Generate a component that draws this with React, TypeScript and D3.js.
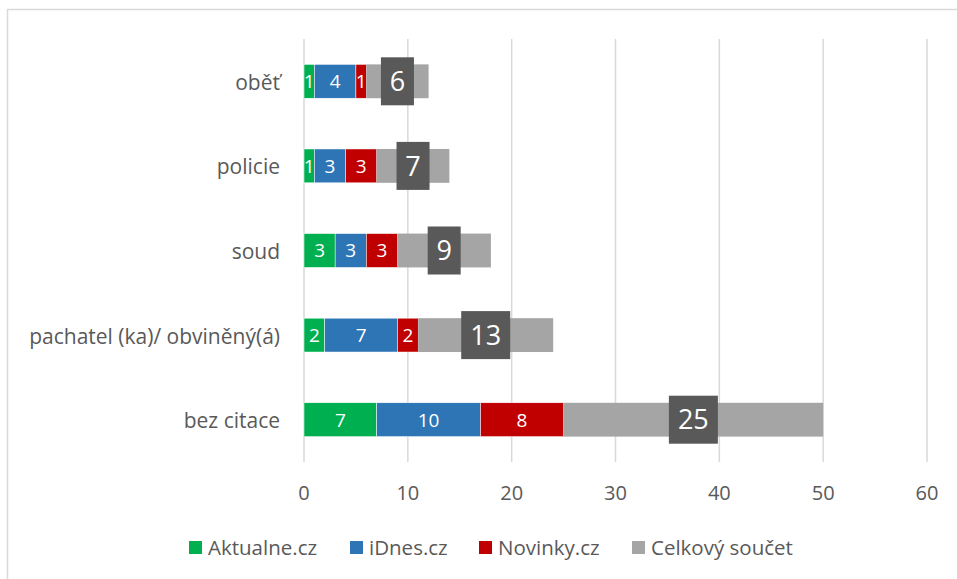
import React from "react";
import * as d3 from "d3";

const width = 957;
const height = 579;

const categories = ["oběť", "policie", "soud", "pachatel (ka)/ obviněný(á)", "bez citace"];
const aktualne = [1, 1, 3, 2, 7];
const idnes = [4, 3, 3, 7, 10];
const novinky = [1, 3, 3, 2, 8];
const celkem = [6, 7, 9, 13, 25];
const seriesNames = ["Aktualne.cz", "iDnes.cz", "Novinky.cz", "Celkový součet"];
const colors = ["#00B050", "#2E75B6", "#C00000", "#A5A5A5"];
const xTicks = [0, 10, 20, 30, 40, 50, 60];

const font = "'Open Sans', sans-serif";

export default function App() {
  const x = d3.scaleLinear().domain([0, 60]).range([304, 927]);
  const y = d3.scaleBand().domain(categories).range([39, 462]).paddingInner(0.6).paddingOuter(0.3);

  const table = categories.map((c, i) => ({ cat: c, a: aktualne[i], i: idnes[i], n: novinky[i], c: celkem[i] }));
  const stack = d3.stack<any>().keys(["a", "i", "n", "c"])(table);

  return (
    <svg width={width} height={height} style={{ position: "absolute", left: 0, top: 0 }} fontFamily={font}>
      <rect x={7.5} y={9.5} width={width + 10} height={height + 10} fill="white" stroke="#D9D9D9" strokeWidth={1.5} />
      {xTicks.map((t) => (
        <g key={t}>
          <line x1={x(t)} x2={x(t)} y1={39} y2={462} stroke="#D9D9D9" strokeWidth={1.5} />
          <text x={x(t)} y={493} dy="0.36em" textAnchor="middle" fontSize={20} fill="#595959">{t}</text>
        </g>
      ))}
      {categories.map((c) => (
        <text key={c} x={280} y={y(c)! + y.bandwidth() / 2 + 1} dy="0.36em" textAnchor="end" fontSize={21} fill="#595959">{c}</text>
      ))}
      {stack.map((s, si) => (
        <g key={si}>
          {s.map((d, di) => (
            <rect key={di} x={x(d[0])} y={y(categories[di])} width={x(d[1]) - x(d[0])} height={y.bandwidth()} fill={colors[si]} stroke="white" strokeWidth={si < 3 ? 0.5 : 0} />
          ))}
        </g>
      ))}
      {stack.slice(0, 3).map((s, si) => (
        <g key={"l" + si}>
          {s.map((d, di) => (
            <text key={di} x={(x(d[0]) + x(d[1])) / 2} y={y(categories[di])! + y.bandwidth() / 2} dy="0.36em" textAnchor="middle" fontSize={19} fill="white">{d[1] - d[0]}</text>
          ))}
        </g>
      ))}
      {stack[3].map((d, di) => {
        const cx = (x(d[0]) + x(d[1])) / 2;
        const cy = y(categories[di])! + y.bandwidth() / 2;
        const v = d[1] - d[0];
        const w = String(v).length > 1 ? 49 : 33;
        return (
          <g key={"t" + di}>
            <rect x={cx - w / 2} y={cy - 24} width={w} height={48} fill="#595959" />
            <text x={cx} y={cy} dy="0.36em" textAnchor="middle" fontSize={27} fill="white">{v}</text>
          </g>
        );
      })}
      {seriesNames.map((n, i) => {
        const lx = [189, 350, 479, 632][i];
        return (
          <g key={n}>
            <rect x={lx} y={541} width={13} height={13} fill={colors[i]} />
            <text x={lx + 19} y={548} dy="0.36em" fontSize={20.5} fill="#595959">{n}</text>
          </g>
        );
      })}
    </svg>
  );
}
